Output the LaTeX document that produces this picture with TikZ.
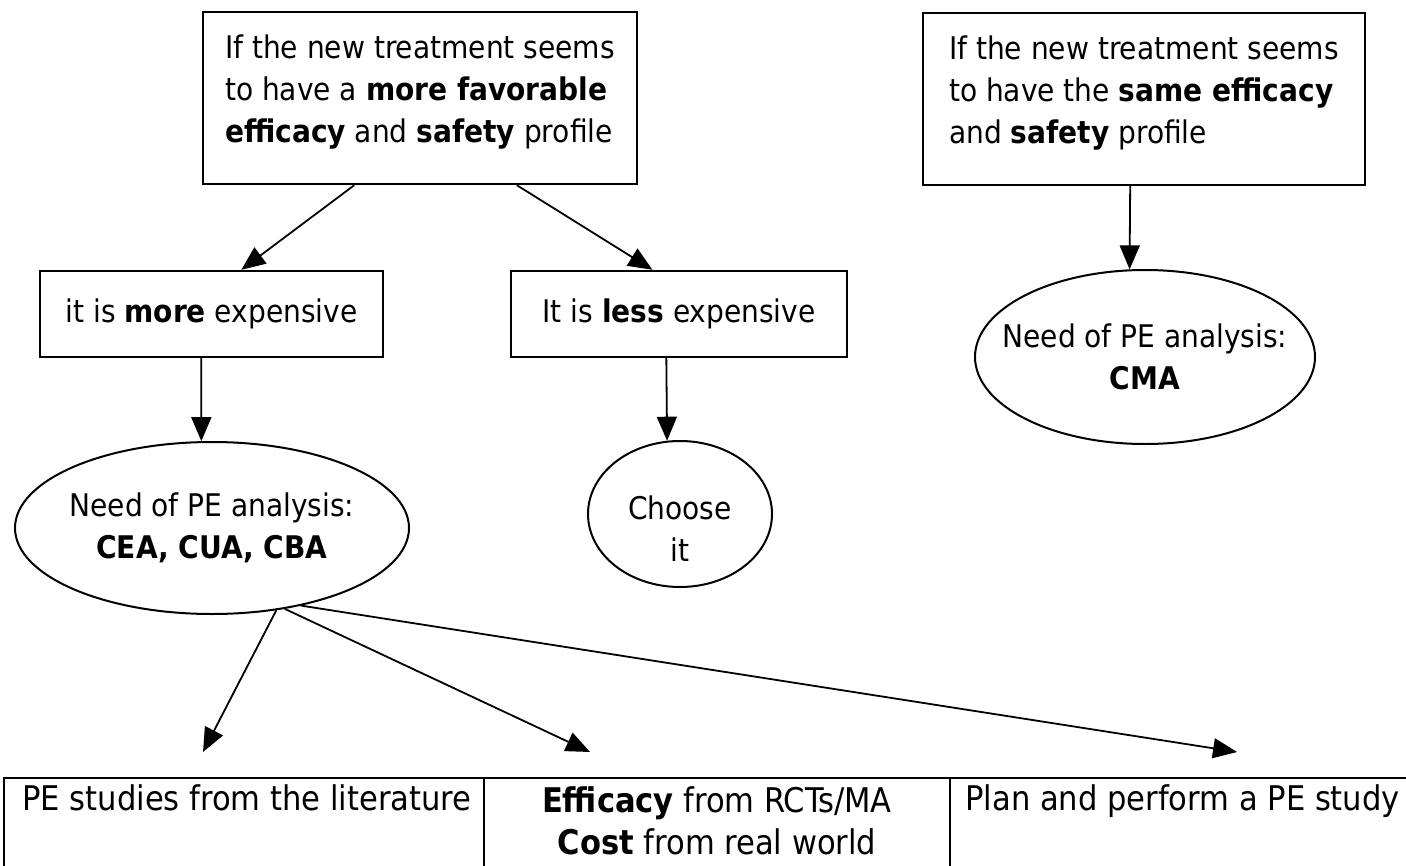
\documentclass[tikz,border=0pt]{standalone}
\usepackage{fontspec}
\setmainfont{DejaVu Sans Condensed}
\usepackage{tikz}
\usetikzlibrary{shapes.geometric, arrows.meta, positioning}

\begin{document}
\begin{tikzpicture}[
  x=0.5pt, y=-0.5pt,
  every node/.style={font=\fontsize{15.6pt}{21pt}\selectfont},
  box/.style={rectangle, draw, line width=1.2pt, align=center, inner sep=0pt},
  oval/.style={ellipse, draw, line width=1pt, align=center, inner xsep=-15pt, inner ysep=0pt},
  cell/.style={inner sep=0pt, align=center, font=\fontsize{17pt}{21pt}\selectfont},
  arrow/.style={-{Triangle[length=12pt, width=10pt]}, line width=0.9pt}
]
  \useasboundingbox (0,0) rectangle (1406,866);

  % upper boxes
  \node[box, align=left, minimum width=217pt, minimum height=86pt] (better) at (420,98)
    {If the new treatment seems\\to have a \textbf{more favorable}\\\textbf{efficacy} and \textbf{safety} profile\rule[-9pt]{0pt}{9pt}};
  \node[box, align=left, minimum width=221pt, minimum height=86pt] (same) at (1144,99)
    {If the new treatment seems\\to have the \textbf{same efficacy}\\and \textbf{safety} profile\rule[-9pt]{0pt}{9pt}};

  \node[box, minimum width=171.5pt, minimum height=43pt] (more) at (211.5,314) {it is \textbf{more} expensive};
  \node[box, minimum width=168pt, minimum height=43pt] (less) at (679,314) {It is \textbf{less} expensive};

  % analyses
  \node[oval, minimum width=170pt, minimum height=87pt] (cma) at (1145,357) {Need of PE analysis:\\\textbf{CMA}};
  \node[oval, minimum width=197pt, minimum height=86pt] (cea) at (212,528) {Need of PE analysis:\\\textbf{CEA, CUA, CBA}};
  \node[oval, inner xsep=0pt, minimum width=92pt, minimum height=73pt] (choose) at (680,514) {\rule{0pt}{26pt}Choose\\it};

  % table at the bottom
  \begin{scope}
    \clip (0,0) rectangle (1406,866);
    \draw[line width=1.1pt] (4,900) -- (4,778) -- (1420,778);
    \draw[line width=0.8pt] (484,778) -- (484,900);
    \draw[line width=0.8pt] (950,778) -- (950,900);
  \end{scope}
  \node[cell, anchor=base west] (lit) at (22,810) {PE studies from the literature};
  \node[cell, anchor=north] (rct) at (717,786) {\textbf{Efficacy} from RCTs/MA\\\textbf{Cost} from real world};
  \node[cell, anchor=base west] (plan) at (965,810) {Plan and perform a PE study};

  \coordinate (tolit) at (203,752);
  \coordinate (torct) at (590,752);
  \coordinate (toplan) at (1237,752);

  \draw[arrow] (better.-127) -- (more.56.5);
  \draw[arrow] (better.-42.5) -- (less.121);
  \draw[arrow] (same.-99) -- (cma.100);
  \draw[arrow] (more.-103) -- (cea.97);
  \draw[arrow] (less.-106) -- (choose.100);
  \draw[arrow] (cea.-52) -- (tolit);
  \draw[arrow] (cea.-48) -- (torct);
  \draw[arrow] (cea.-41) -- (toplan);
\end{tikzpicture}
\end{document}
